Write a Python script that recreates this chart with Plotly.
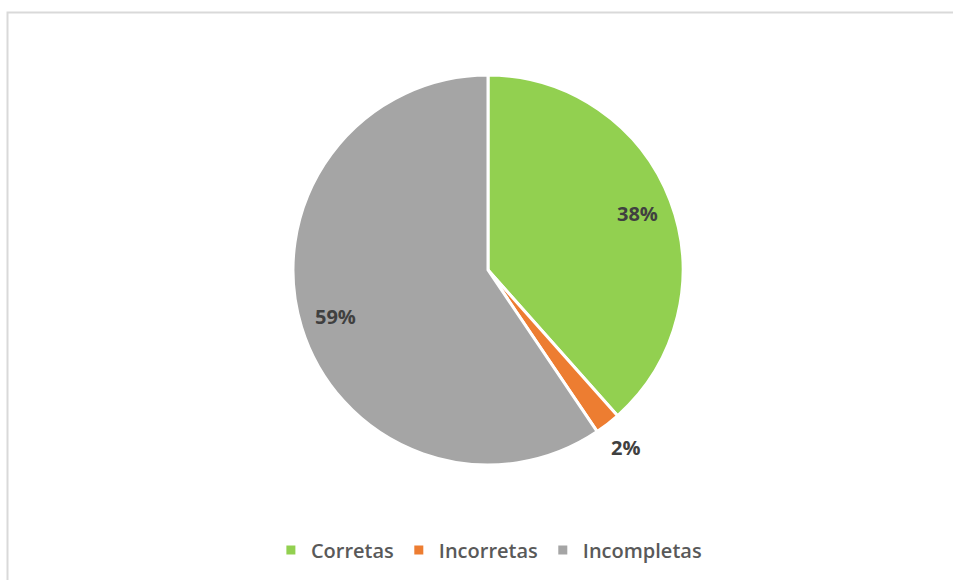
import math
import plotly.graph_objects as go

categories = ["Corretas", "Incorretas", "Incompletas"]
values = [38.4, 2.1, 59.4]
colors = ["#92d050", "#ed7d31", "#a5a5a5"]

W, H = 953, 580
cx, cy, r = 488, 270, 195

fig = go.Figure(go.Pie(
    labels=categories,
    values=values,
    sort=False,
    direction="clockwise",
    rotation=0,
    marker=dict(colors=colors, line=dict(color="white", width=3)),
    textinfo="none",
    hoverinfo="label+percent",
    domain=dict(x=[(cx - r) / W, (cx + r) / W], y=[(H - cy - r) / H, (H - cy + r) / H]),
    showlegend=True,
))

# data labels placed like the original (inside at ~0.82 r, small slice outside)
total = sum(values)
annotations = []
cum = 0.0
for v in values:
    frac = v / total
    mid = (cum + frac / 2) * 2 * math.pi
    cum += frac
    dist = 0.82 * r if frac > 0.1 else 1.15 * r
    px = cx + dist * math.sin(mid)
    py = cy - dist * math.cos(mid)
    annotations.append(dict(
        x=px / W, y=(H - py) / H, xref="paper", yref="paper",
        xanchor="center", yanchor="middle",
        text=f"{round(frac * 100)}%", showarrow=False,
        font=dict(family="Open Sans", size=20, color="#404040", weight="bold"),
    ))

fig.update_layout(
    width=W, height=H,
    margin=dict(l=0, r=0, t=0, b=0),
    paper_bgcolor="white",
    plot_bgcolor="white",
    annotations=annotations,
    legend=dict(
        orientation="h", x=0.513, xanchor="center", y=(H - 550) / H, yanchor="middle",
        font=dict(family="Open Sans", size=20, color="#595959", weight=600),
        itemwidth=30, tracegroupgap=0,
    ),
    shapes=[dict(type="rect", xref="paper", yref="paper",
                 x0=7.5 / W, x1=1.02, y0=(H - 12.5) / H, y1=-0.02,
                 line=dict(color="#d9d9d9", width=2), fillcolor="rgba(0,0,0,0)")],
)

fig.write_html("out.html", config={"displayModeBar": False},
               post_script="document.body.style.margin='0';")
